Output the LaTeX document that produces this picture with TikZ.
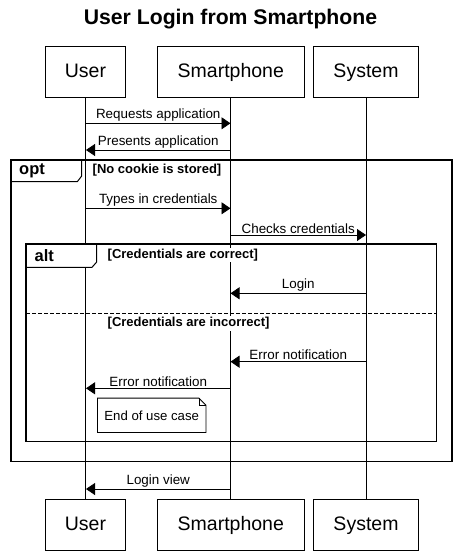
\documentclass[tikz,border=0pt]{standalone}
\usepackage{fontspec}
\setmainfont{Liberation Sans}
\usetikzlibrary{arrows.meta}

\tikzset{
	actor/.style={draw, line width=0.8pt, minimum height=51pt, inner sep=0pt,
		text height=15pt, text depth=4pt, font=\fontsize{19.5}{22}\selectfont},
	msg/.style={-{Triangle[length=9pt,width=12pt]}, line width=0.8pt},
	lbl/.style={font=\fontsize{13.4}{15}\selectfont, inner sep=1.3pt},
	guard/.style={font=\bfseries\fontsize{13}{14}\selectfont, fill=white, inner sep=1pt, anchor=west},
	fragname/.style={font=\bfseries\fontsize{16.5}{18}\selectfont, inner sep=0pt, anchor=west},
	frame/.style={line width=1.5pt},
	tab/.style={line width=1pt, fill=white},
}

\begin{document}
\begin{tikzpicture}[x=1pt,y=-1pt]
		\useasboundingbox (0,0) rectangle (461,556);
		
		\node[anchor=base, font=\bfseries\fontsize{21.2}{24}\selectfont] (title) at (230.5,25) {User Login from Smartphone};
		
		\node[actor, minimum width=79.6pt] (userT) at (85.5,72) {User};
		\node[actor, minimum width=147pt] (phoneT) at (230.8,72) {Smartphone};
		\node[actor, minimum width=105.4pt] (sysT) at (366,72) {System};
		\node[actor, minimum width=79.6pt] (userB) at (85.5,524.5) {User};
		\node[actor, minimum width=147pt] (phoneB) at (230.8,524.5) {Smartphone};
		\node[actor, minimum width=105.4pt] (sysB) at (366,524.5) {System};
		
		\draw[line width=0.8pt] (userT)--(userB);
		\draw[line width=0.8pt] (phoneT)--(phoneB);
		\draw[line width=0.8pt] (sysT)--(sysB);
		
		% points on the lifelines
		\foreach \n/\y in {1/123.3,2/150,3/208.3,4/235,5/293.3,6/361.7,7/388.3,8/489}{
			\coordinate (u\n) at (86,\y);
			\coordinate (p\n) at (230.5,\y);
			\coordinate (s\n) at (366,\y);
		}
		
		\draw[msg] (u1)--(p1) node[midway,above,lbl]{Requests application};
		\draw[msg] (p2)--(u2) node[midway,above,lbl]{Presents application};
		
		% opt fragment
		\draw[tab] (11,160)--(81.7,160)--(81.7,176)--(77.3,181.7)--(11,181.7)--cycle;
		\draw[frame] (11,160) rectangle (452,461.7);
		\node[fragname] (optL) at (19,171) {opt};
		\node[guard] (optG) at (91.5,170.5) {[No cookie is stored]};
		
		\draw[msg] (u3)--(p3) node[midway,above,lbl]{Types in credentials};
		\draw[msg] (p4)--(s4) node[midway,above,lbl]{Checks credentials};
		
		% alt fragment
		\draw[tab] (26,244)--(96.7,244)--(96.7,262)--(92,267.3)--(26,267.3)--cycle;
		\draw[frame] (26,244) rectangle (436.7,441.7);
		\node[fragname] (altL) at (34.5,256) {alt};
		\node[guard] (altG1) at (106.5,255.3) {[Credentials are correct]};
		
		\draw[msg] (s5)--(p5) node[midway,above,lbl]{Login};
		
		\draw[frame, dash pattern=on 4pt off 2pt] (26,313.3)--(436.7,313.3);
		\node[guard] (altG2) at (106.5,323.5) {[Credentials are incorrect]};
		
		\draw[msg] (s6)--(p6) node[midway,above,lbl]{Error notification};
		\draw[msg] (p7)--(u7) node[midway,above,lbl]{Error notification};
		
		% note
		\node[minimum width=108pt, minimum height=34pt, inner sep=0pt] (endN) at (151.7,415.3) {};
		\draw[line width=0.8pt, fill=white] (endN.north west)--([xshift=-7pt]endN.north east)--([yshift=-7pt]endN.north east)--(endN.south east)--(endN.south west)--cycle;
		\draw[line width=0.6pt] ([xshift=-7pt]endN.north east)--([xshift=-7pt,yshift=-7pt]endN.north east)--([yshift=-7pt]endN.north east);
		\node[font=\fontsize{13.2}{15}\selectfont, inner sep=0pt] (endT) at (endN) {End of use case};
		
		\draw[msg] (p8)--(u8) node[midway,above,lbl]{Login view};
	\end{tikzpicture}
\end{document}
